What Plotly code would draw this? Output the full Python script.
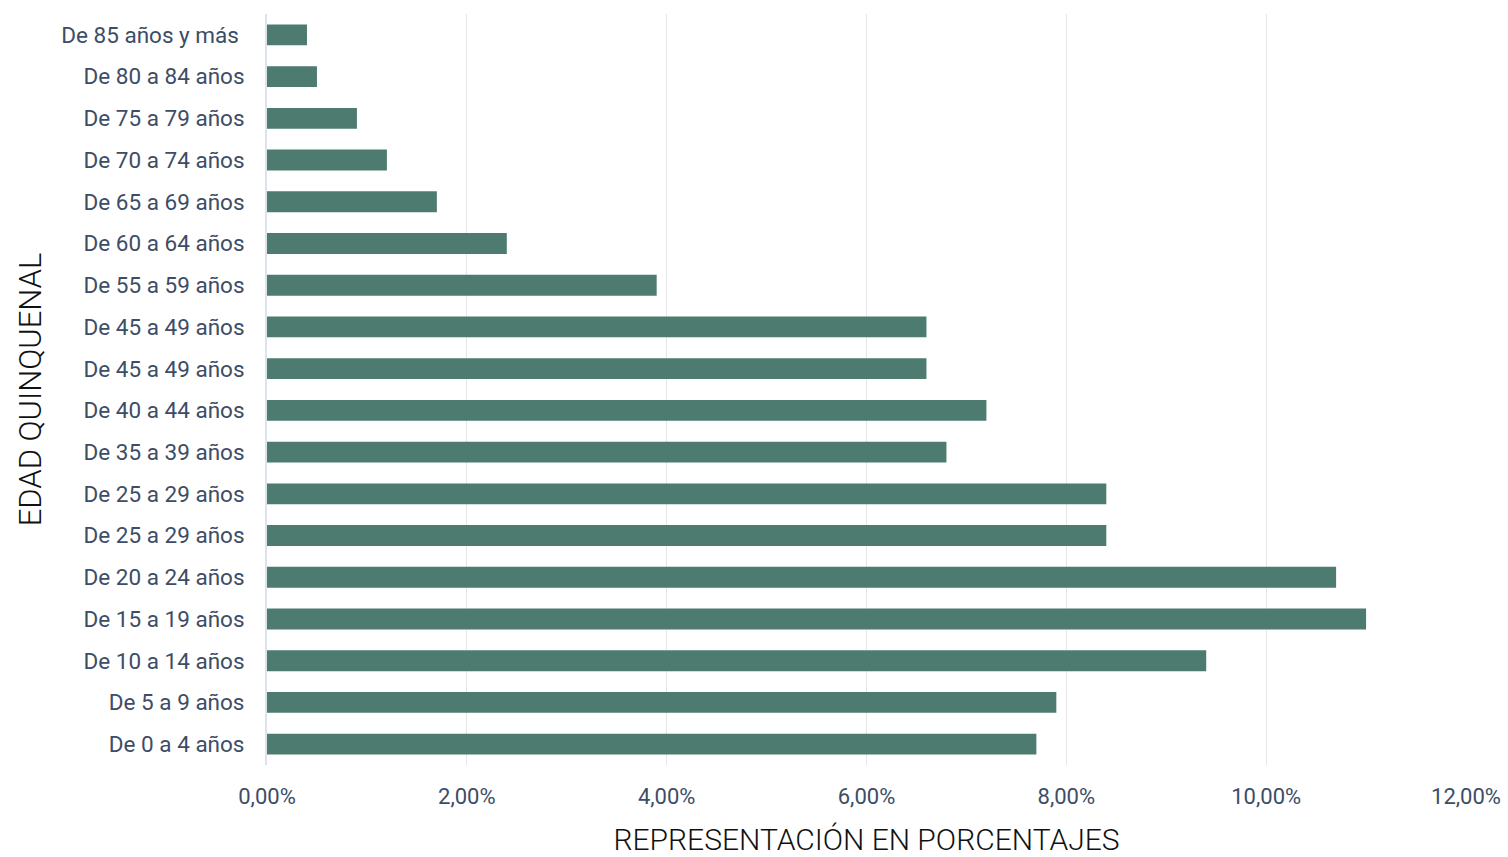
import plotly.graph_objects as go

# Age groups (bottom to top) and their share of the population, in percent
grupos = [
    "De 0 a 4 años", "De 5 a 9 años", "De 10 a 14 años", "De 15 a 19 años",
    "De 20 a 24 años", "De 25 a 29 años", "De 25 a 29 años", "De 35 a 39 años",
    "De 40 a 44 años", "De 45 a 49 años", "De 45 a 49 años", "De 55 a 59 años",
    "De 60 a 64 años", "De 65 a 69 años", "De 70 a 74 años", "De 75 a 79 años",
    "De 80 a 84 años", "De 85 años y más\u00a0",
]
porcentajes = [7.7, 7.9, 9.4, 11.0, 10.7, 8.4, 8.4, 6.8, 7.2, 6.6, 6.6, 3.9,
               2.4, 1.7, 1.2, 0.9, 0.5, 0.4]
ticks_x = [0, 2, 4, 6, 8, 10, 12]
ticks_x_texto = ["0,00%", "2,00%", "4,00%", "6,00%", "8,00%", "10,00%", "12,00%"]

posiciones = list(range(len(grupos)))

fig = go.Figure(go.Bar(
    x=porcentajes,
    y=posiciones,
    orientation="h",
    width=0.5,
    marker=dict(color="#4d7b70", line=dict(width=0)),
    hoverinfo="skip",
))

fuente = "Roboto, Lato, sans-serif"
fig.update_layout(
    width=1508, height=857,
    margin=dict(l=267, r=42, t=14, b=92),
    paper_bgcolor="white", plot_bgcolor="white",
    showlegend=False,
    font=dict(family=fuente, color="#3d4d66"),
    xaxis=dict(
        range=[0, 12], tickvals=ticks_x, ticktext=ticks_x_texto,
        showgrid=True, gridcolor="#e6e6ea", gridwidth=1,
        zeroline=False, showline=False, ticks="",
        ticklabelstandoff=16, automargin=False,
        tickfont=dict(size=22, color="#3d4d66"),
        title=dict(text="REPRESENTACIÓN EN PORCENTAJES",
                   font=dict(size=30, color="#111111", weight=300), standoff=24),
        fixedrange=True,
    ),
    yaxis=dict(
        range=[-0.5, len(grupos) - 0.5], tickvals=posiciones, ticktext=grupos,
        showgrid=False, zeroline=False, showline=True,
        linecolor="#dde3ec", linewidth=2, ticks="", ticklen=0,
        ticklabelstandoff=16, automargin=False,
        tickfont=dict(size=22.5, color="#3d4d66"),
        title=dict(text="EDAD QUINQUENAL",
                   font=dict(size=31, color="#111111", weight=300), standoff=10),
        fixedrange=True,
    ),
)

fig.write_html("out.html")
